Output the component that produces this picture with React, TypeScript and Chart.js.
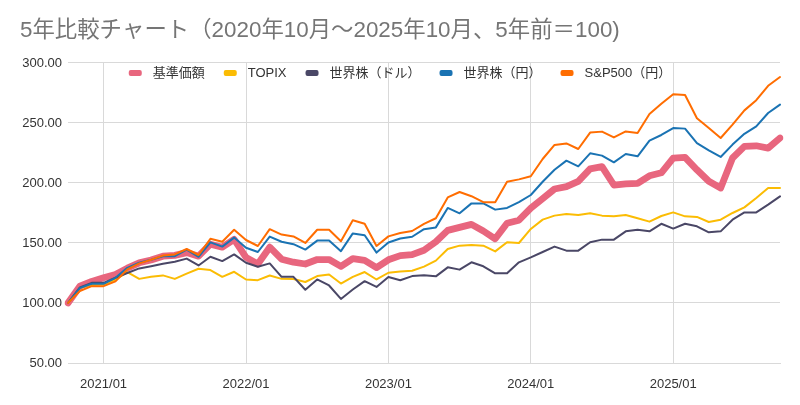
import React, { useEffect, useRef } from "react";
import { Chart, registerables } from "chart.js";

Chart.register(...registerables);

const FONT = "'Liberation Sans', Arial, 'Noto Sans CJK JP', sans-serif";

const TITLE = "5年比較チャート（2020年10月～2025年10月、5年前＝100)";

const MONTHS: string[] = [
  "2020/10", "2020/11", "2020/12",
  "2021/01", "2021/02", "2021/03", "2021/04", "2021/05", "2021/06", "2021/07", "2021/08", "2021/09", "2021/10", "2021/11", "2021/12",
  "2022/01", "2022/02", "2022/03", "2022/04", "2022/05", "2022/06", "2022/07", "2022/08", "2022/09", "2022/10", "2022/11", "2022/12",
  "2023/01", "2023/02", "2023/03", "2023/04", "2023/05", "2023/06", "2023/07", "2023/08", "2023/09", "2023/10", "2023/11", "2023/12",
  "2024/01", "2024/02", "2024/03", "2024/04", "2024/05", "2024/06", "2024/07", "2024/08", "2024/09", "2024/10", "2024/11", "2024/12",
  "2025/01", "2025/02", "2025/03", "2025/04", "2025/05", "2025/06", "2025/07", "2025/08", "2025/09", "2025/10",
];

const TICK_LABELS: string[] = ["2021/01", "2022/01", "2023/01", "2024/01", "2025/01"];

const KIJUN: number[] = [
  100, 114, 118, 121, 123.7, 129, 133.5, 135.8, 139, 139.7,
  142, 139, 149, 146.5, 153, 138, 132.5, 146.5, 136.5, 134,
  132.5, 136.2, 136.2, 130.5, 137, 135.5, 129.5, 136, 139.5, 140.3,
  144, 151, 160.5, 163, 165.5, 160, 153.5, 166.5, 169, 179,
  187, 195, 197, 201.4, 211.7, 213.6, 198.3, 199.2, 199.7, 206,
  208.5, 220.8, 221.4, 211, 201.4, 195.8, 220.8, 230.5, 231, 229,
  237.5,
];

const TOPIX: number[] = [
  100, 112.6, 115, 115.4, 119.5, 125.7, 120.1, 121.8, 123, 120.1,
  124.5, 128.5, 127.4, 121.8, 126, 119.6, 119, 122.9, 120.1, 120,
  117.5, 122.4, 123.8, 116.2, 121.8, 125.8, 119.6, 125.2, 126.3, 126.9,
  130.3, 135.3, 145, 147.8, 148.3, 147.8, 143, 150.6, 150, 161.7,
  169.5, 172.8, 174.2, 173.3, 174.7, 172.8, 172.2, 173.3, 170.6, 167.8,
  172.5, 175.5, 172.2, 171.7, 167.5, 169.4, 175, 179.7, 187.5, 195.8,
  195.8,
];

const WORLD_USD: number[] = [
  100, 113, 116.8, 116.8, 121, 125, 128.8, 130.7, 132.7, 134.4,
  137, 131.3, 138.5, 134.9, 140.5, 133.5, 130.2, 133, 121.8, 121.8,
  111, 119.6, 114.6, 103.4, 111.2, 118.2, 113.4, 121.6, 119, 122.4,
  123.2, 122.2, 129.7, 127.8, 133.9, 130.6, 124.7, 124.7, 133.9, 138,
  142.5, 147, 143.6, 143.6, 150.6, 152.8, 152.8, 159.7, 161, 159.7,
  166, 162, 166, 163.9, 158.9, 159.7, 169.4, 175.5, 175.5, 182,
  188.9,
];

const WORLD_JPY: number[] = [
  100, 112.5, 116, 116, 121, 129.3, 133.5, 136, 139, 139,
  144.5, 138.5, 150.5, 147, 154.5, 146, 142.5, 155.3, 151, 149,
  144.5, 152, 152, 143.2, 158, 156.5, 142, 150.4, 153.8, 155.2,
  161.5, 163, 179.2, 174.7, 183, 183, 177.8, 179.2, 184, 190,
  201, 211, 218.6, 213.9, 224.7, 222.8, 217.2, 224.2, 222.2, 235.3,
  240, 245.8, 245.3, 233.3, 227.2, 221.7, 232, 241, 247.2, 258.3,
  265.3,
];

const SP500_JPY: number[] = [
  100, 110, 114, 114, 118, 128, 133, 136, 139.5, 140.5,
  145, 140, 153.5, 151, 161, 152.5, 147.5, 161.5, 157, 155.5,
  150, 161, 161, 151.5, 169, 166, 147.5, 155.5, 158.3, 160,
  166, 170.6, 188, 192.5, 189, 184, 184, 201, 203, 205.6,
  220, 231.7, 233, 228.3, 242, 242.8, 238, 243, 241.7, 257.5,
  266, 274, 273.3, 254, 245.8, 237.5, 248.6, 260.5, 269, 281,
  288.3,
];

const SERIES_LABELS: string[] = ["基準価額", "TOPIX", "世界株（ドル）", "世界株（円）", "S&P500（円）"];
const SERIES_COLORS: string[] = ["#e8667e", "#fbbc04", "#4a4766", "#1a73b3", "#ff6d01"];
const SERIES_WIDTHS: number[] = [6.8, 2, 2, 2, 2];
const SERIES_ORDER: number[] = [5, 4, 3, 2, 1];

const GRID = "#d9d9d9";

const legendPlugin = {
  id: "sheetLegend",
  afterDraw(chart: any) {
    const ctx = chart.ctx as CanvasRenderingContext2D;
    const ds = chart.data.datasets;
    const markerW = 13;
    const markerH = 6;
    const gap = 11;
    const itemGap = 19;
    ctx.save();
    ctx.font = `13px ${FONT}`;
    const widths = ds.map((d: any) => ctx.measureText(d.label).width);
    const total =
      widths.reduce((a: number, w: number) => a + markerW + gap + w, 0) + itemGap * (ds.length - 1);
    let x = chart.width / 2 - total / 2;
    const y = chart.chartArea.top + 10;
    ctx.textBaseline = "middle";
    ctx.textAlign = "left";
    ds.forEach((d: any, i: number) => {
      ctx.fillStyle = d.borderColor;
      ctx.beginPath();
      (ctx as any).roundRect(x, y - markerH / 2, markerW, markerH, 2);
      ctx.fill();
      x += markerW + gap;
      ctx.fillStyle = "#333333";
      ctx.fillText(d.label, x, y);
      x += widths[i] + itemGap;
    });
    ctx.restore();
  },
};

export default function App() {
  const canvasRef = useRef<HTMLCanvasElement | null>(null);

  useEffect(() => {
    document.body.style.margin = "0";
    const canvas = canvasRef.current;
    if (!canvas) return;
    const data = [KIJUN, TOPIX, WORLD_USD, WORLD_JPY, SP500_JPY];
    const chart = new Chart(canvas, {
      type: "line",
      data: {
        labels: MONTHS,
        datasets: data.map((values, i) => ({
          label: SERIES_LABELS[i],
          data: values,
          borderColor: SERIES_COLORS[i],
          backgroundColor: SERIES_COLORS[i],
          borderWidth: SERIES_WIDTHS[i],
          pointRadius: 0,
          pointHoverRadius: 0,
          tension: 0,
          borderJoinStyle: "round" as const,
          borderCapStyle: "round" as const,
          fill: false,
          order: SERIES_ORDER[i],
        })),
      },
      options: {
        responsive: false,
        animation: false,
        events: [],
        layout: { padding: { left: 20, right: 20, top: 0, bottom: 0 } },
        plugins: {
          legend: { display: false },
          tooltip: { enabled: false },
          title: {
            display: true,
            text: TITLE,
            align: "start",
            color: "#757575",
            font: { family: FONT, size: 22.4, weight: "normal" },
            padding: { top: 17.6, bottom: 18.5 },
          },
        },
        scales: {
          x: {
            type: "category",
            offset: false,
            afterFit: (s: any) => {
              s.height = 42;
            },
            grid: {
              drawTicks: false,
              color: (c: any) => (TICK_LABELS.includes(MONTHS[c.index]) ? GRID : "rgba(0,0,0,0)"),
              lineWidth: 1,
            },
            border: { display: true, color: GRID },
            ticks: {
              autoSkip: false,
              maxRotation: 0,
              minRotation: 0,
              padding: 14,
              color: "#333333",
              font: { family: FONT, size: 13 },
              callback: (_v: any, index: number) =>
                TICK_LABELS.includes(MONTHS[index]) ? MONTHS[index] : "",
            },
          },
          y: {
            min: 50,
            max: 300,
            afterFit: (s: any) => {
              s.width = 48;
            },
            grid: { drawTicks: false, color: GRID, lineWidth: 1 },
            border: { display: false },
            ticks: {
              stepSize: 50,
              padding: 6,
              color: "#333333",
              font: { family: FONT, size: 13 },
              callback: (v: any) => Number(v).toFixed(2),
            },
          },
        },
      },
      plugins: [legendPlugin],
    });
    return () => chart.destroy();
  }, []);

  return (
    <div style={{ width: 800, height: 405, background: "#ffffff" }}>
      <canvas ref={canvasRef} width={800} height={405} />
    </div>
  );
}
